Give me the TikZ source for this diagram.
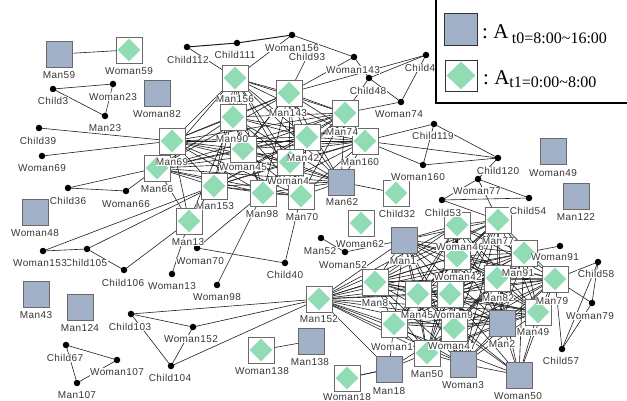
\documentclass[tikz,border=0pt]{standalone}
\usepackage{fontspec}
\setmainfont{Liberation Sans}
\newfontfamily\labelfont[LetterSpace=4]{Liberation Sans}
\newfontfamily\legendfont{Liberation Serif}

\definecolor{leaf}{RGB}{145,220,180}
\definecolor{slate}{RGB}{163,177,200}
\definecolor{boxline}{RGB}{105,105,105}
\definecolor{labtext}{RGB}{55,55,55}

\pgfdeclarelayer{edges}
\pgfdeclarelayer{labels}
\pgfdeclarelayer{top}
\pgfsetlayers{edges,main,labels,top}

\tikzset{
  basebox/.style={rectangle, minimum size=26pt, inner sep=0pt, line width=0.6pt, draw=boxline},
  gsq/.style={basebox, fill=slate},
  dmb/.style={basebox, fill=white, path picture={
      \fill[leaf] ([yshift=-1.6pt]path picture bounding box.north)
        -- ([xshift=-1.6pt]path picture bounding box.east)
        -- ([yshift=1.6pt]path picture bounding box.south)
        -- ([xshift=1.6pt]path picture bounding box.west) -- cycle;}},
  dot/.style={circle, fill=black, minimum size=6.5pt, inner sep=0pt},
  lab/.style={font=\labelfont\fontsize{10}{10}\selectfont, text=labtext, fill=white, inner sep=0.4pt},
  edge/.style={line width=0.6pt, black!88},
  legendframe/.style={draw=black, line width=2pt, fill=white, anchor=north west,
      minimum width=215pt, minimum height=110pt, inner sep=0pt},
  legtext/.style={anchor=base west, inner sep=0pt, font=\legendfont},
}

% style, name, x, y, label x, label y, label text
\newcommand\placenode[7]{%
  \node[#1] (#2) at (#3,#4) {};
  \begin{pgfonlayer}{labels}\node[lab] (#2-lab) at (#5,#6) {#7};\end{pgfonlayer}}
\newcommand\lnk[2]{\draw[edge] (#1.center) -- (#2.center);}

\def\topcluster{Man156,Man143,Man74,Man160,Man90,Man69,Woman45,Man42,Woman4,Man153,Man98,Man70,Man62,Man66}
\def\lowcluster{Man1,Woman46,Man77,Woman42,Man91,Man8,Man45,Woman9,Man82,Woman1,Woman47,Man2,Man50,Woman3,Man49,Man79}

\begin{document}
\begin{tikzpicture}[x=1pt,y=-1pt]
\useasboundingbox (0,0) rectangle (627,401);

% ---- square actors (period t0)
\placenode{gsq}{Man59}{59}{54}{59}{75}{Man59}
\placenode{gsq}{Woman82}{157}{93}{157}{114}{Woman82}
\placenode{gsq}{Woman48}{35}{212}{35}{233}{Woman48}
\placenode{gsq}{Man43}{36}{294}{36}{315}{Man43}
\placenode{gsq}{Man124}{80}{307}{80}{328}{Man124}
\placenode{gsq}{Man62}{341}{182}{342}{202}{Man62}
\placenode{gsq}{Man1}{404}{240}{403}{261}{Man1}
\placenode{gsq}{Woman49}{553}{151}{553}{173}{Woman49}
\placenode{gsq}{Man122}{576}{196}{576}{217}{Man122}
\placenode{gsq}{Man138}{311}{341}{310}{362}{Man138}
\placenode{gsq}{Man18}{389}{369}{389}{391}{Man18}
\placenode{gsq}{Man2}{502}{323}{502}{344}{Man2}
\placenode{gsq}{Woman3}{463}{364}{463}{385}{Woman3}
\placenode{gsq}{Woman50}{519}{375}{518}{396}{Woman50}

% ---- diamond actors (period t1)
\placenode{dmb}{Woman59}{129}{50}{129}{71}{Woman59}
\placenode{dmb}{Man156}{235}{78}{235}{99}{Man156}
\placenode{dmb}{Man143}{289}{93}{288}{113}{Man143}
\placenode{dmb}{Man74}{345}{113}{342}{132}{Man74}
\placenode{dmb}{Man160}{365}{141}{360}{162}{Man160}
\placenode{dmb}{Man90}{233}{117}{232}{139}{Man90}
\placenode{dmb}{Man69}{172}{141}{172}{162}{Man69}
\placenode{dmb}{Woman45}{243}{149}{243}{167}{Woman45}
\placenode{dmb}{Man42}{307}{137}{303}{158}{Man42}
\placenode{dmb}{Woman4}{290}{162}{288}{181}{Woman4}
\placenode{dmb}{Man66}{157}{168}{157}{189}{Man66}
\placenode{dmb}{Man153}{214}{186}{215}{206}{Man153}
\placenode{dmb}{Man98}{263}{193}{262}{214}{Man98}
\placenode{dmb}{Man70}{301}{196}{302}{217}{Man70}
\placenode{dmb}{Man13}{189}{221}{188}{242}{Man13}
\placenode{dmb}{Child32}{396}{193}{397}{214}{Child32}
\placenode{dmb}{Woman62}{361}{223}{360}{244}{Woman62}
\placenode{dmb}{Woman46}{457}{225}{460}{247}{Woman46}
\placenode{dmb}{Man77}{498}{220}{498}{241}{Man77}
\placenode{dmb}{Woman42}{457}{256}{458}{277}{Woman42}
\placenode{dmb}{Man91}{524}{253}{518}{273}{Man91}
\placenode{dmb}{Man8}{375}{282}{375}{303}{Man8}
\placenode{dmb}{Woman9}{450}{294}{452}{315}{Woman9}
\placenode{dmb}{Man45}{418}{294}{417}{315}{Man45}
\placenode{dmb}{Man82}{497}{278}{498}{298}{Man82}
\placenode{dmb}{Man79}{555}{279}{552}{301}{Man79}
\placenode{dmb}{Man49}{538}{312}{533}{332}{Man49}
\placenode{dmb}{Woman1}{394}{324}{392}{347}{Woman1}
\placenode{dmb}{Woman47}{454}{328}{452}{346}{Woman47}
\placenode{dmb}{Man50}{427}{353}{427}{374}{Man50}
\placenode{dmb}{Man152}{319}{299}{319}{319}{Man152}
\placenode{dmb}{Woman138}{261}{350}{262}{371}{Woman138}
\placenode{dmb}{Woman18}{347}{378}{347}{397}{Woman18}

% ---- dot actors
\placenode{dot}{Child112}{187}{47}{188}{60}{Child112}
\placenode{dot}{Child111}{237}{43}{235}{55}{Child111}
\placenode{dot}{Woman156}{292}{35}{292}{48}{Woman156}
\placenode{dot}{Woman143}{354}{57}{353}{70}{Woman143}
\placenode{dot}{Child48}{369}{78}{368}{91}{Child48}
\placenode{dot}{Woman74}{401}{102}{399}{114}{Woman74}
\placenode{dot}{Child4}{426}{55}{420}{68}{Child4}
\placenode{dot}{Child119}{434}{124}{433}{136}{Child119}
\placenode{dot}{Woman160}{423}{165}{418}{177}{Woman160}
\placenode{dot}{Child120}{498}{158}{498}{171}{Child120}
\placenode{dot}{Woman77}{478}{179}{477}{191}{Woman77}
\placenode{dot}{Child53}{442}{200}{443}{213}{Child53}
\placenode{dot}{Child54}{529}{198}{528}{211}{Child54}
\placenode{dot}{Woman91}{560}{246}{555}{257}{Woman91}
\placenode{dot}{Child58}{598}{262}{596}{274}{Child58}
\placenode{dot}{Woman79}{592}{303}{590}{316}{Woman79}
\placenode{dot}{Child57}{562}{349}{561}{361}{Child57}
\placenode{dot}{Child3}{53}{89}{53}{101}{Child3}
\placenode{dot}{Woman23}{113}{84}{113}{97}{Woman23}
\placenode{dot}{Man23}{105}{116}{105}{128}{Man23}
\placenode{dot}{Child39}{39}{128}{38}{141}{Child39}
\placenode{dot}{Woman69}{42}{156}{42}{168}{Woman69}
\placenode{dot}{Child36}{68}{188}{68}{201}{Child36}
\placenode{dot}{Woman66}{126}{191}{126}{204}{Woman66}
\placenode{dot}{Child105}{87}{249}{86}{263}{Child105}
\placenode{dot}{Woman153}{43}{251}{40}{263}{Woman153}
\placenode{dot}{Child106}{124}{270}{123}{283}{Child106}
\placenode{dot}{Woman13}{172}{274}{172}{286}{Woman13}
\placenode{dot}{Woman70}{197}{248}{200}{261}{Woman70}
\placenode{dot}{Child40}{285}{263}{285}{275}{Child40}
\placenode{dot}{Woman98}{217}{285}{217}{297}{Woman98}
\placenode{dot}{Man52}{321}{238}{320}{251}{Man52}
\placenode{dot}{Woman52}{345}{252}{343}{265}{Woman52}
\placenode{dot}{Child103}{131}{314}{130}{327}{Child103}
\placenode{dot}{Woman152}{193}{327}{191}{339}{Woman152}
\placenode{dot}{Child104}{171}{366}{170}{378}{Child104}
\placenode{dot}{Child67}{66}{345}{65}{358}{Child67}
\placenode{dot}{Woman107}{117}{360}{117}{372}{Woman107}
\placenode{dot}{Man107}{77}{383}{77}{395}{Man107}
\begin{pgfonlayer}{labels}\node[lab] (Child93-lab) at (307,57) {Child93};\end{pgfonlayer}

% ---- ties
\begin{pgfonlayer}{edges}
  \foreach \a [count=\i] in \topcluster {
    \foreach \b [count=\j] in \topcluster {
      \ifnum\j>\i \draw[edge] (\a.center) -- (\b.center); \fi
    }
  }
  \foreach \a [count=\i] in \lowcluster {
    \foreach \b [count=\j] in \lowcluster {
      \ifnum\j>\i \draw[edge] (\a.center) -- (\b.center); \fi
    }
  }
  \foreach \b in {Man8,Man1,Woman46,Woman42,Man45,Woman9,Woman1,Woman47,Man82,Man2,Man91,Man77,Woman3,Man50,Woman50,Man18,Man49,Child103,Woman152,Child104}
    {\lnk{Man152}{\b}}
  \foreach \b in {Man49,Man2,Woman47,Man82,Woman3,Man91,Man79,Man45,Woman9}
    {\lnk{Woman50}{\b}}
  \foreach \b in {Woman1,Man50,Woman47,Woman18}
    {\lnk{Man18}{\b}}
  \foreach \b in {Man69,Man66,Man153,Man90,Child106,Woman13}
    {\lnk{Man13}{\b}}
  \draw[edge, line width=1pt] (Child112.center) -- (Child111.center) -- (Woman156.center);
  \lnk{Man59}{Woman59}
  \lnk{Child112}{Man156}
  \lnk{Woman156}{Man156}
  \lnk{Woman156}{Woman143}
  \lnk{Man143}{Woman143}
  \lnk{Man143}{Child4}
  \draw[edge] (Man143.center) -- (Child93-lab.center);
  \lnk{Woman143}{Child48}
  \lnk{Child48}{Child4}
  \lnk{Child48}{Woman74}
  \lnk{Woman74}{Child4}
  \lnk{Man74}{Woman74}
  \lnk{Man74}{Child48}
  \lnk{Man160}{Child119}
  \lnk{Man160}{Child120}
  \lnk{Man160}{Woman160}
  \lnk{Child119}{Woman160}
  \lnk{Child119}{Child120}
  \lnk{Woman160}{Child120}
  \lnk{Child120}{Woman77}
  \lnk{Woman77}{Child53}
  \lnk{Woman77}{Child54}
  \lnk{Woman77}{Man77}
  \lnk{Child53}{Child54}
  \lnk{Child53}{Man77}
  \lnk{Man91}{Woman91}
  \lnk{Man79}{Child58}
  \lnk{Man79}{Woman79}
  \lnk{Man79}{Child57}
  \lnk{Child58}{Child57}
  \lnk{Child58}{Woman79}
  \lnk{Woman79}{Child57}
  \lnk{Man18}{Woman18}
  \lnk{Man138}{Woman138}
  \lnk{Man1}{Woman52}
  \lnk{Man52}{Woman52}
  \lnk{Man62}{Child32}
  \lnk{Child3}{Woman23}
  \lnk{Child3}{Man23}
  \lnk{Woman23}{Man23}
  \lnk{Child39}{Man69}
  \lnk{Woman69}{Man69}
  \lnk{Child36}{Woman66}
  \lnk{Child36}{Man66}
  \lnk{Woman66}{Man66}
  \lnk{Woman153}{Child105}
  \lnk{Woman153}{Man153}
  \lnk{Child105}{Man153}
  \lnk{Child105}{Child106}
  \lnk{Woman70}{Child40}
  \lnk{Woman70}{Man98}
  \lnk{Child40}{Man70}
  \lnk{Woman98}{Man98}
  \lnk{Woman152}{Child103}
  \lnk{Woman152}{Child104}
  \lnk{Child103}{Child104}
  \lnk{Child67}{Woman107}
  \lnk{Child67}{Man107}
  \lnk{Man107}{Woman107}
\end{pgfonlayer}

% ---- legend
\begin{pgfonlayer}{top}
  \node[legendframe] (legend) at (435,-8) {};
  \node[rectangle, minimum width=33pt, minimum height=32pt, inner sep=0pt,
        fill=slate, draw=black!80, line width=0.8pt] (leg-t0) at (460.5,29) {};
  \node[dmb, minimum width=32pt, minimum height=31pt, draw=black!80, line width=0.8pt] (leg-t1) at (461,75.5) {};
  \node[legtext] (leg-t0-text) at (482,39)
    {\fontsize{21}{21}\selectfont :\ A\,\raisebox{-5pt}{\fontsize{16}{16}\selectfont t0=8:00\textasciitilde16:00}};
  \node[legtext] (leg-t1-text) at (483,85)
    {\fontsize{21}{21}\selectfont :\ A\raisebox{-3pt}{\fontsize{16}{16}\selectfont t1=0:00\textasciitilde8:00}};
\end{pgfonlayer}
\end{tikzpicture}
\end{document}
